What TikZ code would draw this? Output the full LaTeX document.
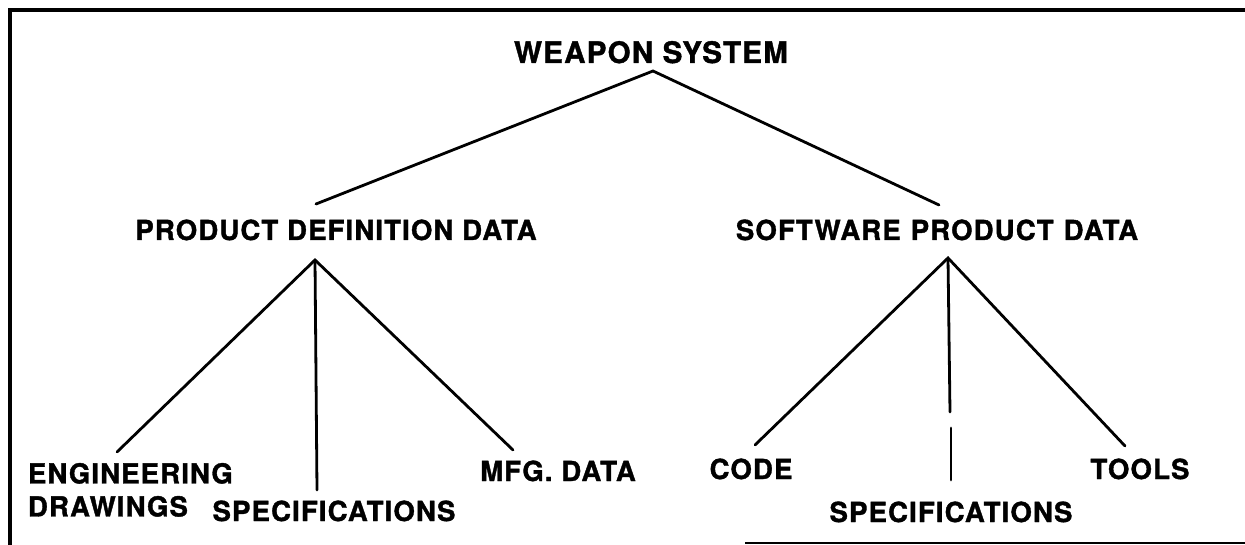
\documentclass[tikz,border=0pt]{standalone}
\usepackage{fontspec}
\setmainfont{TeX Gyre Heros}[LetterSpace=4.0,BoldFeatures={FakeBold=1.3}]
\begin{document}
\begin{tikzpicture}[x=1pt,y=-1pt,
  lbl/.style={inner sep=0pt,outer sep=0pt,font=\fontsize{27.6}{33}\selectfont\bfseries},
  toplbl/.style={lbl,font=\fontsize{29.6}{33}\selectfont\bfseries},
  branch/.style={line width=2.8pt,line cap=round},
  frameline/.style={line width=3.6pt}]
\useasboundingbox (0,0) rectangle (1245,545);
% frame
\draw[frameline] (10,545) -- (10,10) -- (1245,10);
\draw[line width=1.6pt] (745,543) -- (1245,543);
% labels
\node[toplbl,anchor=base] (ws) at (651,63) {WEAPON SYSTEM};
\node[lbl,anchor=base] (pdd) at (336,240) {PRODUCT DEFINITION DATA};
\node[lbl,anchor=base] (spd) at (937,240) {SOFTWARE\hspace{10pt}PRODUCT\hspace{10pt}DATA};
\node[lbl,anchor=north west,align=left] (eng) at (28,463) {ENGINEERING\\DRAWINGS};
\node[lbl,anchor=base] (specl) at (334,521) {SPECIFICATIONS};
\node[lbl,anchor=base] (mfg) at (558,481) {MFG. DATA};
\node[lbl,anchor=base] (code) at (751,479) {CODE};
\node[lbl,anchor=base] (tools) at (1140,479) {TOOLS};
\node[lbl,anchor=base] (specr) at (951,522) {SPECIFICATIONS};
% connector points
\coordinate (wsA) at (653,71);
\coordinate (pddT) at (316,204);
\coordinate (spdT) at (939,205);
\coordinate (pddA) at (315,260);
\coordinate (engT) at (117,452);
\coordinate (speclT) at (317,490);
\coordinate (mfgT) at (513,450);
\coordinate (spdA) at (948,258);
\coordinate (codeT) at (755,445);
\coordinate (gapA) at (950,412);
\coordinate (gapB) at (951,428);
\coordinate (specrT) at (951,480);
\coordinate (toolsT) at (1125,446);
% connectors
\draw[branch] (pddT) -- (wsA) -- (spdT);
\draw[branch] (engT) -- (pddA) -- (mfgT);
\draw[branch] (pddA) -- (speclT);
\draw[branch] (codeT) -- (spdA) -- (toolsT);
\draw[branch] (spdA) -- (gapA);
\draw[branch] (gapB) -- (specrT);
\end{tikzpicture}
\end{document}
